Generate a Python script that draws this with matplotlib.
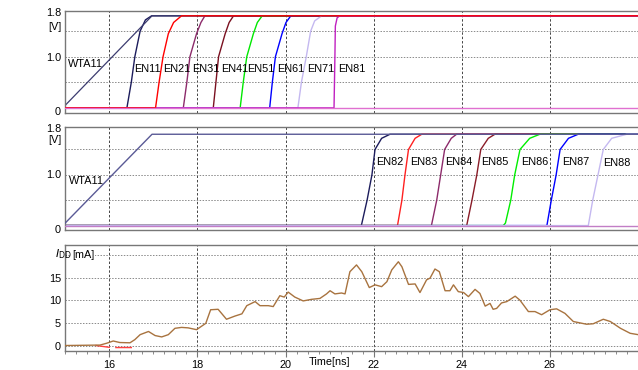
import matplotlib
matplotlib.use("Agg")
import matplotlib.pyplot as plt
from matplotlib.ticker import MultipleLocator
import numpy as np

plt.rcParams['font.family'] = ['Liberation Sans', 'DejaVu Sans']
plt.rcParams['font.size'] = 8

T_END = 28.0

# ---------------- top panel signals (V) ----------------
wta_t = [15.0, 16.97, T_END]
wta_v = [0.05, 1.8, 1.8]

top_names = ["EN11", "EN21", "EN31", "EN41", "EN51", "EN61", "EN71", "EN81"]
top_colors = ["#1c1c5c", "#ff0000", "#8c2a6a", "#7a1020", "#00e800", "#0000ff", "#c4b8f0", "#c020c0"]
top_t = [
    [16.40, 16.50, 16.58, 16.70, 16.82, 16.96],
    [17.05, 17.13, 17.22, 17.34, 17.46, 17.64],
    [17.68, 17.76, 17.83, 17.98, 18.08, 18.17],
    [18.36, 18.42, 18.48, 18.63, 18.72, 18.82],
    [18.97, 19.04, 19.12, 19.27, 19.36, 19.47],
    [19.64, 19.70, 19.77, 19.92, 20.01, 20.12],
    [20.28, 20.36, 20.47, 20.57, 20.66, 20.82],
    [21.10, 21.11, 21.12, 21.13, 21.17, 21.23],
]
top_v = [
    [0.0, 0.5, 1.0, 1.5, 1.72, 1.8],
    [0.0, 0.5, 1.0, 1.45, 1.67, 1.8],
    [0.0, 0.5, 1.0, 1.45, 1.67, 1.8],
    [0.0, 0.5, 1.0, 1.45, 1.67, 1.8],
    [0.0, 0.5, 1.0, 1.45, 1.67, 1.8],
    [0.0, 0.5, 1.0, 1.45, 1.67, 1.8],
    [0.0, 0.5, 1.0, 1.5, 1.7, 1.8],
    [0.0, 0.5, 1.0, 1.6, 1.76, 1.8],
]
top_label_t = [16.57, 17.23, 17.87, 18.54, 19.13, 19.82, 20.49, 21.20]
top_label_v = 0.76

# ---------------- middle panel signals (V) ----------------
mid_names = ["EN82", "EN83", "EN84", "EN85", "EN86", "EN87", "EN88"]
mid_colors = ["#1c1c5c", "#ff2020", "#8c2a6a", "#8a1c28", "#00ee00", "#0000ff", "#c4b8f0"]
mid_t = [
    [21.72, 21.85, 21.96, 22.03, 22.18, 22.37],
    [22.54, 22.64, 22.71, 22.79, 22.94, 23.09],
    [23.31, 23.43, 23.52, 23.61, 23.76, 23.88],
    [24.11, 24.23, 24.34, 24.43, 24.60, 24.75],
    [24.94, 24.99, 25.11, 25.20, 25.32, 25.54, 25.77],
    [25.93, 26.03, 26.14, 26.23, 26.42, 26.64],
    [26.87, 26.97, 27.09, 27.21, 27.40, 27.74],
]
mid_v = [
    [0.0, 0.5, 1.0, 1.5, 1.72, 1.8],
    [0.0, 0.5, 1.0, 1.5, 1.72, 1.8],
    [0.0, 0.5, 1.0, 1.5, 1.72, 1.8],
    [0.0, 0.5, 1.0, 1.5, 1.72, 1.8],
    [0.0, 0.05, 0.5, 1.0, 1.5, 1.72, 1.8],
    [0.0, 0.5, 1.0, 1.5, 1.72, 1.8],
    [0.0, 0.5, 1.0, 1.5, 1.72, 1.8],
]
mid_label_t = [22.05, 22.82, 23.62, 24.43, 25.35, 26.27, 27.21]
mid_label_v = [1.26, 1.26, 1.26, 1.26, 1.26, 1.26, 1.23]

# ---------------- bottom panel: supply current (mA) ----------------
idd_t = [15.01, 15.79, 15.94, 16.09, 16.24, 16.47, 16.58, 16.70, 16.89, 17.04,
         17.19, 17.34, 17.49, 17.64, 17.79, 17.98, 18.10, 18.19, 18.30, 18.47,
         18.66, 18.85, 19.01, 19.12, 19.31, 19.42, 19.61, 19.72, 19.87, 19.97,
         20.06, 20.21, 20.40, 20.59, 20.78, 20.93, 21.01, 21.12, 21.27, 21.35,
         21.46, 21.61, 21.73, 21.90, 22.03, 22.18, 22.30, 22.41, 22.56, 22.64,
         22.79, 22.94, 23.05, 23.20, 23.28, 23.39, 23.49, 23.62, 23.73, 23.81,
         23.92, 24.04, 24.15, 24.30, 24.41, 24.53, 24.64, 24.71, 24.79, 24.90,
         25.02, 25.21, 25.32, 25.51, 25.66, 25.81, 26.00, 26.15, 26.34, 26.53,
         26.83, 26.98, 27.21, 27.37, 27.60, 27.82, 28.00]
idd_v = [0.0, 0.1, 0.5, 1.0, 0.66, 0.6, 1.3, 2.4, 3.1, 2.2,
         1.9, 2.4, 3.8, 4.0, 3.9, 3.5, 4.3, 4.9, 7.9, 8.0,
         5.8, 6.5, 7.0, 8.8, 9.7, 8.8, 8.8, 8.6, 11.0, 10.7,
         11.8, 10.7, 9.85, 10.2, 10.4, 11.4, 12.1, 11.4, 11.6, 11.4,
         16.3, 17.8, 16.3, 12.8, 13.4, 13.0, 14.1, 16.7, 18.5, 17.4,
         13.5, 13.6, 11.7, 14.5, 14.9, 16.9, 16.3, 12.1, 12.1, 13.4,
         11.9, 11.7, 10.8, 12.4, 11.5, 8.7, 9.3, 8.0, 8.2, 9.4,
         9.7, 10.9, 10.0, 7.5, 7.5, 6.8, 7.9, 8.1, 7.1, 5.3,
         4.7, 4.8, 5.8, 5.3, 3.8, 2.7, 2.4]
red_t = [15.70, 15.85, 16.00, np.nan, 16.15, 16.50]
red_v = [0.0, -0.2, -0.4, np.nan, -0.45, -0.45]

x_major = [16, 18, 20, 22, 24, 26]

FS = 7.8

# ---------------- figure ----------------
W, H = 638, 370
fig = plt.figure(figsize=(W / 100, H / 100), dpi=100)
left = 65.2 / W
width = 13 * 44.07 / W


def mk(top_px, bot_px):
    return fig.add_axes([left, 1 - bot_px / H, width, (bot_px - top_px) / H])


ax1 = mk(10.7, 113.0)
ax2 = mk(127.3, 230.0)
ax3 = mk(245.0, 350.5)

for ax in (ax1, ax2, ax3):
    ax.set_xlim(15, T_END)
    for sp in ax.spines.values():
        sp.set_color("#777777")
        sp.set_linewidth(1.0)
    ax.spines['right'].set_visible(False)
    for x in x_major:
        ax.axvline(x, color="#444444", lw=0.7, ls=(0, (2.5, 2)), zorder=0.5)
    ax.tick_params(axis='y', length=0, pad=3, labelsize=FS)

grid_kw = dict(color="#8a8a8a", lw=0.7, ls=(0, (1.5, 1.5)), zorder=0.5)

# top panel
ax1.set_ylim(-0.1, 1.9)
for g in (0.5, 1.0, 1.5):
    ax1.axhline(g, **grid_kw)
for name, c, t, v in zip(top_names, top_colors, top_t, top_v):
    tt = [15.0] + t + [T_END]
    vv = [0.0] + v + [1.8]
    z = 3 if name == "EN21" else (2.5 if name == "EN81" else 2)
    ax1.plot(tt, vv, color=c, lw=1.0, zorder=z)
ax1.plot([15, T_END], [0, 0], color="#e070d0", lw=1.0, zorder=3.5)
ax1.plot(wta_t, wta_v, color="#3c3c70", lw=0.9, zorder=2.2)
ax1.text(15.06, 0.86, "WTA11", ha='left', va='center', fontsize=FS, zorder=5)
for name, tx in zip(top_names, top_label_t):
    ax1.text(tx, top_label_v, name, ha='left', va='center', fontsize=FS, zorder=5)
ax1.set_yticks([-0.07, 1.0, 1.88])
ax1.set_yticklabels(["0", "1.0", "1.8"])
ax1.set_xticks([])
fig.text(62 / W, 1 - 26.5 / H, "[V]", ha='right', va='center', fontsize=FS)

# middle panel
ax2.set_ylim(-0.087, 1.937)
for g in (0.5, 1.0, 1.5):
    ax2.axhline(g, **grid_kw)
for name, c, t, v in zip(mid_names, mid_colors, mid_t, mid_v):
    tt = [15.0] + t + [T_END]
    vv = [0.0] + v + [1.8]
    ax2.plot(tt, vv, color=c, lw=1.0, zorder=2)
ax2.plot([15, T_END], [0, 0], color="#c27ec6", lw=1.0, zorder=3.5)
ax2.plot(wta_t, wta_v, color="#5a5a96", lw=1.0, zorder=2.6)
ax2.text(15.08, 0.88, "WTA11", ha='left', va='center', fontsize=FS, zorder=5)
for name, tx, ty in zip(mid_names, mid_label_t, mid_label_v):
    ax2.text(tx, ty, name, ha='left', va='center', fontsize=FS, zorder=5)
ax2.set_yticks([-0.065, 1.01, 1.92])
ax2.set_yticklabels(["0", "1.0", "1.8"])
ax2.set_xticks([])
fig.text(62 / W, 1 - 140 / H, "[V]", ha='right', va='center', fontsize=FS)

# bottom panel
ax3.set_ylim(-1.1, 22.2)
for g in (0, 5, 10, 15, 20):
    ax3.axhline(g, **grid_kw)
ax3.plot(idd_t, idd_v, color="#a8733f", lw=1.0, zorder=3)
ax3.plot(red_t, red_v, color="#ff4040", lw=1.0, zorder=2.5)
ax3.set_yticks([0, 5, 10, 15])
ax3.set_yticklabels(["0", "5", "10", "15"])
ax3.set_xticks(x_major)
ax3.set_xticklabels([str(x) for x in x_major])
ax3.xaxis.set_minor_locator(MultipleLocator(0.25))
ax3.tick_params(axis='x', which='major', direction='out', length=4, width=0.8,
                color="#777777", labelsize=FS, pad=3)
ax3.tick_params(axis='x', which='minor', direction='out', length=2, width=0.6,
                color="#777777")
ax3.text(15.15, 19.9, "[mA]", ha='left', va='center', fontsize=FS, zorder=6,
         bbox=dict(facecolor='white', edgecolor='none', pad=0.6))
fig.text(55 / W, 1 - 254 / H, r"$I_{\mathrm{DD}}$", ha='left', va='center', fontsize=8)
fig.text(309 / W, 1 - 362 / H, "Time[ns]", ha='left', va='center', fontsize=FS)

fig.savefig("out.png", dpi=100)
